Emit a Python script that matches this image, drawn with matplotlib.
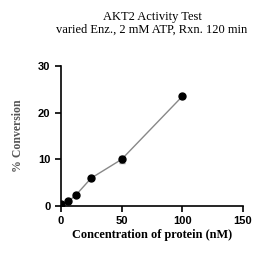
import numpy as np
import matplotlib.pyplot as plt

conc = [0, 6.25, 12.5, 25, 50, 100]
conversion = [0.4, 1.0, 2.4, 6.0, 10.0, 23.5]
err = [0.2, 0.2, 0.3, 0.3, 0.8, 0.3]

fig = plt.figure(figsize=(2.78, 2.56), dpi=100)
ax = fig.add_axes([0.219, 0.195, 0.655, 0.547])

ax.errorbar(conc, conversion, yerr=err, fmt='o', color='black', ms=5,
            ecolor='#999999', elinewidth=1, capsize=2, zorder=3)
ax.plot(conc, conversion, color='#888888', lw=1, zorder=2)

ax.set_xlim(0, 150)
ax.set_ylim(0, 30)
ax.set_xticks([0, 50, 100, 150])
ax.set_yticks([0, 10, 20, 30])
for s in ['top', 'right']:
    ax.spines[s].set_visible(False)
for s in ['left', 'bottom']:
    ax.spines[s].set_linewidth(1.2)
ax.tick_params(direction='out', length=4, width=1.2, labelsize=8)
for lab in ax.get_xticklabels() + ax.get_yticklabels():
    lab.set_fontfamily('Liberation Sans')
    lab.set_fontweight('bold')

ax.set_xlabel('Concentration of protein (nM)', family='Liberation Serif',
              fontweight='bold', fontsize=8.8, labelpad=2)
ax.set_ylabel('% Conversion', family='Liberation Serif', fontweight='bold',
              fontsize=8.5, color='#555555', labelpad=10)
fig.text(0.547, 0.91, 'AKT2 Activity Test\nvaried Enz., 2 mM ATP, Rxn. 120 min',
         ha='center', va='center', family='Liberation Serif', fontsize=9,
         linespacing=1.05)

fig.savefig('out.png', dpi=100)
